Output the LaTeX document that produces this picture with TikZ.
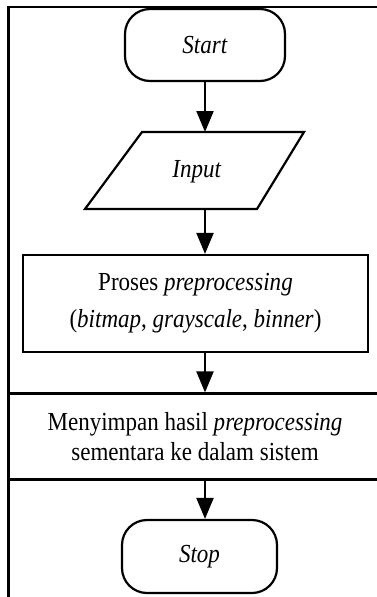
\documentclass[tikz,border=0pt]{standalone}
\usepackage{fontspec}
\setmainfont[FakeStretch=0.885]{Liberation Serif}
\usetikzlibrary{arrows.meta}
\begin{document}
\begin{tikzpicture}[x=1pt,y=-1pt,
  line width=2.2pt,
  font=\fontsize{26}{30}\selectfont,
  terminal/.style={draw, rounded corners=25pt, inner sep=0pt},
  procbox/.style={draw, inner sep=0pt, align=center},
  flow/.style={-{Triangle[length=21pt,width=17pt]}, line width=2.2pt}]
  \useasboundingbox (0,0) rectangle (377,597);
  % outer frame (only the left and top edges fall on the page)
  \draw (8.5,620) -- (8.5,7) -- (400,7);
  % terminals
  \node[terminal, minimum width=160pt, minimum height=72pt] (start) at (205,45) {\textit{Start}};
  \node[terminal, minimum width=155pt, minimum height=73pt] (stop) at (199.5,556.5) {\textit{Stop}};
  % input / output parallelogram
  \coordinate (inTL) at (142,132);
  \coordinate (inTR) at (304,132);
  \coordinate (inBR) at (257,209);
  \coordinate (inBL) at (85,209);
  \draw[line join=miter] (inTL) -- (inTR) -- (inBR) -- (inBL) -- cycle;
  \node (input) at (197,172) {\textit{Input}};
  % process boxes
  \node[procbox, minimum width=345pt, minimum height=97pt, font=\fontsize{26}{37}\selectfont] (proc) at (195.5,303.5)
    {Proses \textit{preprocessing}\\(\textit{bitmap}, \textit{grayscale}, \textit{binner})};
  \node[procbox, minimum width=372pt, minimum height=86pt] (save) at (195,436.5)
    {Menyimpan hasil \textit{preprocessing}\\sementara ke dalam sistem};
  % connectors
  \draw[flow] (start.south) -- (start.south |- inTL);
  \draw[flow] (start.south |- inBL) -- (start.south |- proc.north);
  \draw[flow] (start.south |- proc.south) -- (start.south |- save.north);
  \draw[flow] (start.south |- save.south) -- (start.south |- stop.north);
\end{tikzpicture}
\end{document}
